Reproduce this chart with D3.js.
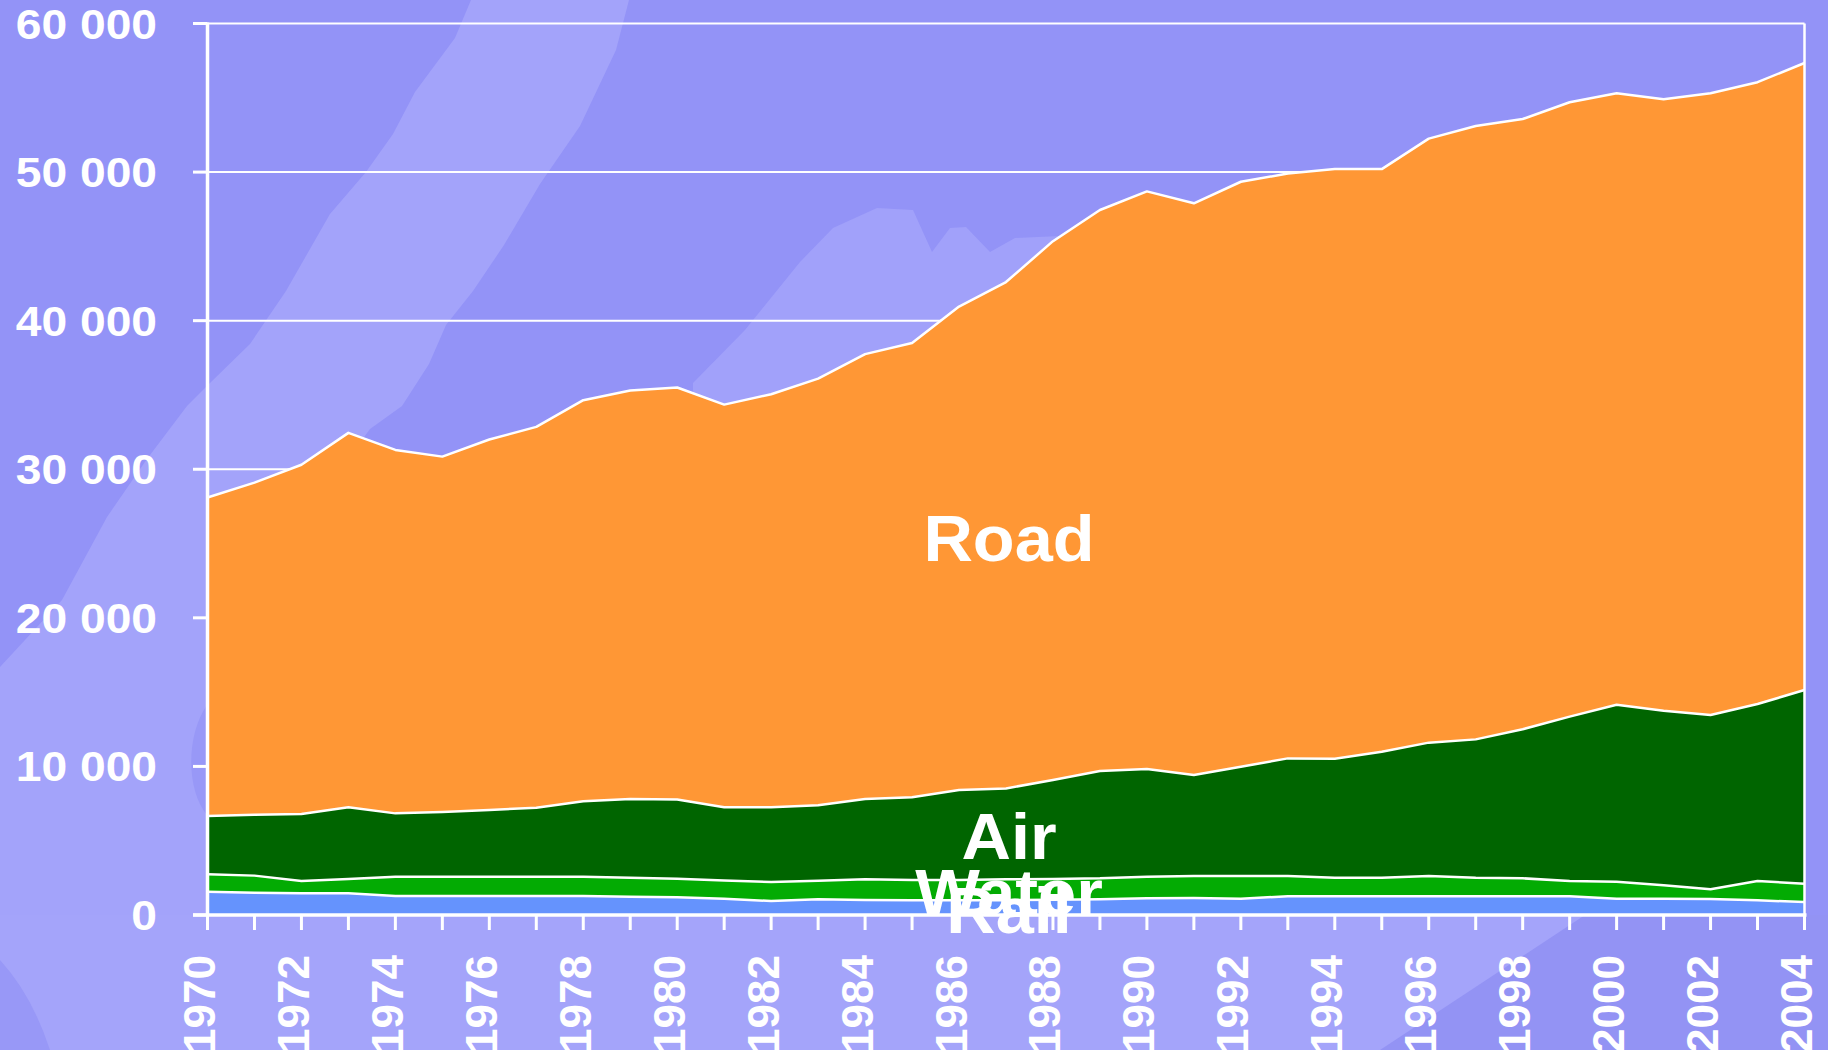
<!DOCTYPE html>
<html>
<head>
<meta charset="utf-8">
<script src="https://cdn.jsdelivr.net/npm/d3@7"></script>
<style>
    html, body { margin: 0; padding: 0; background: #9393f7; overflow: hidden; }
    svg { display: block; }
    text { font-family: 'Liberation Sans', Arial, sans-serif; font-weight: bold; fill: #ffffff; }
</style>
</head>
<body>
<div id="chart"></div>
<script>
'use strict';

// freight by mode, 1970-2004
var years = d3.range(1970, 2005);
var rail = [1570, 1500, 1460, 1460, 1280, 1280, 1280, 1280, 1280, 1230,
    1190, 1100, 940, 1060, 1010, 990, 1000, 1000, 1030, 1060,
    1120, 1140, 1100, 1260, 1260, 1260, 1260, 1260, 1260, 1260,
    1100, 1100, 1080, 990, 870];
var water = [1170, 1150, 830, 960, 1300, 1300, 1300, 1300, 1300, 1280,
    1250, 1230, 1280, 1250, 1390, 1370, 1350, 1400, 1400, 1410,
    1460, 1480, 1520, 1360, 1250, 1250, 1360, 1250, 1210, 1030,
    1140, 900, 650, 1300, 1240];
var air = [3920, 4100, 4510, 4830, 4260, 4350, 4490, 4640, 5070, 5290,
    5340, 4920, 5030, 5070, 5400, 5560, 6060, 6120, 6650, 7220,
    7240, 6800, 7360, 7920, 8010, 8480, 8980, 9310, 10030, 11060,
    11910, 11750, 11730, 11910, 13030];
var road = [21440, 22350, 23500, 25200, 24460, 23920, 24930, 25630, 27000, 27500,
    27720, 27100, 27800, 28720, 29950, 30580, 32540, 34080, 36270, 37760,
    38880, 38480, 39370, 39360, 39680, 39210, 40650, 41280, 41070, 41350,
    41150, 41150, 41840, 41850, 42200];

var seriesNames = ['Rail', 'Water', 'Air', 'Road'];
var seriesColors = ['#6593fd', '#03ab03', '#006500', '#ff9735'];
var yTicks = [0, 10000, 20000, 30000, 40000, 50000, 60000];
var labelYears = years.filter(function(y) { return y % 2 === 0; });

var width = 1828,
    height = 1050;

var x = d3.scaleLinear().domain([1970, 2004]).range([207.5, 1804.5]);
var y = d3.scaleLinear().domain([0, 60000]).range([915, 23.5]);

var svg = d3.select('#chart').append('svg')
    .attr('width', width)
    .attr('height', height);

// background swooshes (decoration only)
var bg = svg.append('g').attr('id', 'background-layer');
bg.append('rect')
    .attr('width', width)
    .attr('height', height)
    .attr('fill', '#9393f7');
bg.append('path')
    .attr('d', 'M471,0 L629,0 L616,50 L580,126 L540,184 L504,245 L473,291 L446,325 L429,364 ' +
        'L402,406 L370,429 L340,470 L330,1050 L0,1050 L0,667 L62,600 L107,517 L147,459 ' +
        'L187,406 L210,383 L250,344 L286,291 L330,214 L366,172 L393,134 L415,92 L455,38 Z')
    .attr('fill', '#a3a3fa');
bg.append('path')
    .attr('d', 'M0,915 L1828,915 L1828,1050 L0,1050 Z')
    .attr('fill', '#a4a4fa');
bg.append('path')
    .attr('d', 'M1380,1050 L1585,915 L1828,915 L1828,1050 Z')
    .attr('fill', '#9393f4');
bg.append('path')
    .attr('d', 'M0,960 Q32,995 50,1050 L0,1050 Z M207,705 C186,735 186,790 207,815 Z')
    .attr('fill', '#9898f7');
bg.append('path')
    .attr('d', 'M693,383 L745,330 L800,262 L833,228 L877,208 L913,210 L932,252 L950,228 L966,227 L990,252 L1015,238 L1060,236 L1100,262 L1100,600 L693,600 Z')
    .attr('fill', '#a1a1fa');

// grid
var grid = svg.append('g').attr('id', 'grid-layer');
grid.selectAll('line')
    .data(yTicks.slice(1))
    .enter().append('line')
        .attr('x1', x(1970))
        .attr('x2', x(2004))
        .attr('y1', function(d) { return y(d); })
        .attr('y2', function(d) { return y(d); })
        .attr('stroke', '#ffffff')
        .attr('stroke-width', 2);

// stacked areas
var table = years.map(function(yr, i) {
    return { year: yr, Rail: rail[i], Water: water[i], Air: air[i], Road: road[i] };
});
var stacked = d3.stack().keys(seriesNames)(table);

var area = d3.area()
    .x(function(d) { return x(d.data.year); })
    .y0(function(d) { return y(d[0]); })
    .y1(function(d) { return y(d[1]); });

var topLine = d3.line()
    .x(function(d) { return x(d.data.year); })
    .y(function(d) { return y(d[1]); });

var areas = svg.append('g').attr('id', 'areas-layer');
areas.selectAll('path.area')
    .data(stacked)
    .enter().append('path')
        .attr('class', 'area')
        .attr('d', area)
        .attr('fill', function(d, i) { return seriesColors[i]; });
areas.selectAll('path.edge')
    .data(stacked)
    .enter().append('path')
        .attr('class', 'edge')
        .attr('d', topLine)
        .attr('fill', 'none')
        .attr('stroke', '#ffffff')
        .attr('stroke-width', 2.5)
        .attr('stroke-linejoin', 'round');

// frame + axes
var axes = svg.append('g').attr('id', 'axes-layer');
axes.append('line')
    .attr('x1', x(2004)).attr('x2', x(2004))
    .attr('y1', y(60000)).attr('y2', y(0))
    .attr('stroke', '#ffffff')
    .attr('stroke-width', 2.5);
axes.append('line')
    .attr('x1', x(1970)).attr('x2', x(1970))
    .attr('y1', y(60000) - 1).attr('y2', y(0))
    .attr('stroke', '#ffffff')
    .attr('stroke-width', 3.5);
axes.append('line')
    .attr('x1', 193).attr('x2', x(2004) + 2)
    .attr('y1', y(0)).attr('y2', y(0))
    .attr('stroke', '#ffffff')
    .attr('stroke-width', 3.5);

axes.selectAll('line.ytick')
    .data(yTicks)
    .enter().append('line')
        .attr('class', 'ytick')
        .attr('x1', 193).attr('x2', x(1970))
        .attr('y1', function(d) { return y(d); })
        .attr('y2', function(d) { return y(d); })
        .attr('stroke', '#ffffff')
        .attr('stroke-width', 3);

axes.selectAll('line.xtick')
    .data(years)
    .enter().append('line')
        .attr('class', 'xtick')
        .attr('x1', function(d) { return x(d); })
        .attr('x2', function(d) { return x(d); })
        .attr('y1', y(0))
        .attr('y2', y(0) + 15)
        .attr('stroke', '#ffffff')
        .attr('stroke-width', 3);

axes.selectAll('text.ylabel')
    .data(yTicks)
    .enter().append('text')
        .attr('class', 'ylabel')
        .attr('text-anchor', 'end')
        .attr('font-size', '42px')
        .attr('transform', function(d) {
            return 'translate(157,' + (y(d) + 15) + ') scale(1.1,1)';
        })
        .text(function(d) { return d3.format(',')(d).replace(/,/g, ' '); });

axes.selectAll('text.xlabel')
    .data(labelYears)
    .enter().append('text')
        .attr('class', 'xlabel')
        .attr('text-anchor', 'end')
        .attr('font-size', '44px')
        .attr('transform', function(d) {
            return 'translate(' + (x(d) + 7.5) + ',955) rotate(-90)';
        })
        .text(function(d) { return d; });

// series labels
var labels = svg.append('g').attr('id', 'text-layer');
var labelPos = [933, 915, 859, 561];
labels.selectAll('text')
    .data(seriesNames)
    .enter().append('text')
        .attr('text-anchor', 'middle')
        .attr('font-size', '64px')
        .attr('transform', function(d, i) {
            return 'translate(1009,' + labelPos[i] + ') scale(1.07,1)';
        })
        .text(function(d) { return d; });
</script>
</body>
</html>
